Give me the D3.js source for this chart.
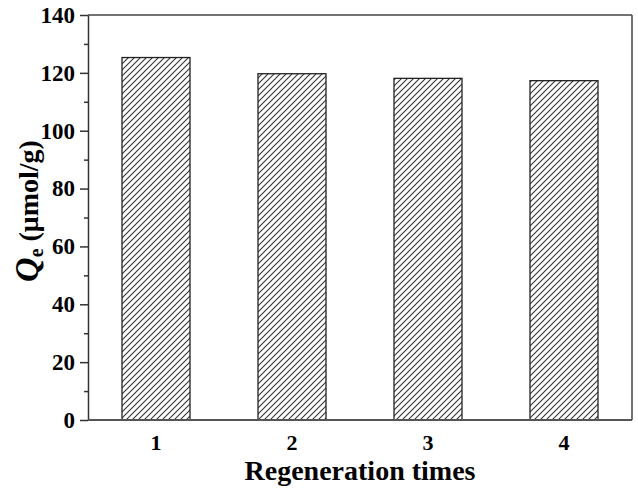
<!DOCTYPE html>
<html><head><meta charset="utf-8">
<script src="https://cdn.jsdelivr.net/npm/d3@7"></script>
<style>body{margin:0;background:#fff}</style>
</head><body>
<svg id="c" width="638" height="491"></svg>
<script>
const categories = ["1","2","3","4"];
const values = [125.3, 119.7, 118.1, 117.3];
const yTicks = [0,20,40,60,80,100,120,140];
const yMinor = [10,30,50,70,90,110,130];

const svg = d3.select("#c");
const m = {l:88, r:632, t:15, b:420};
const x = d3.scaleBand().domain(categories).range([m.l, m.r]).paddingInner(0.5).paddingOuter(0.25);
const y = d3.scaleLinear().domain([0,140]).range([m.b, m.t]);
const font = "'Liberation Serif','Times New Roman',serif";

const defs = svg.append("defs");
const pat = defs.append("pattern").attr("id","hatch").attr("patternUnits","userSpaceOnUse")
  .attr("width",6).attr("height",6);
pat.append("path").attr("d","M-1,1 l2,-2 M0,6 l6,-6 M5,7 l2,-2")
  .attr("stroke","#333").attr("stroke-width",1.1);

svg.selectAll("rect.bar").data(values).join("rect").attr("class","bar")
  .attr("x",(d,i)=>x(categories[i])).attr("width",x.bandwidth())
  .attr("y",d=>y(d)).attr("height",d=>y(0)-y(d))
  .attr("fill","url(#hatch)").attr("stroke","#222").attr("stroke-width",1.3);

// frame
svg.append("line").attr("x1",m.l).attr("x2",m.r).attr("y1",m.t).attr("y2",m.t).attr("stroke","#444").attr("stroke-width",1.5);
svg.append("line").attr("x1",m.r).attr("x2",m.r).attr("y1",m.t).attr("y2",m.b).attr("stroke","#444").attr("stroke-width",1.5);

const ya = svg.append("g").attr("transform",`translate(${m.l},0)`)
  .call(d3.axisLeft(y).tickValues(yTicks).tickSize(8).tickSizeOuter(0).tickPadding(5));
ya.select(".domain").attr("stroke","#333").attr("stroke-width",1.5);
ya.selectAll(".tick line").attr("stroke","#333").attr("stroke-width",1.5);
ya.selectAll("text").attr("font-family",font).attr("font-weight","bold").attr("font-size",23).attr("fill","#000");
const ym = svg.append("g").attr("transform",`translate(${m.l},0)`)
  .call(d3.axisLeft(y).tickValues(yMinor).tickSize(4).tickFormat(""));
ym.select(".domain").remove();
ym.selectAll(".tick line").attr("stroke","#333").attr("stroke-width",1.5);

const xa = svg.append("g").attr("transform",`translate(0,${m.b})`)
  .call(d3.axisBottom(x).tickSize(0).tickPadding(14));
xa.select(".domain").attr("stroke","#555").attr("stroke-width",2).attr("d",`M${m.l},0H${m.r}`);
xa.selectAll("text").attr("font-family",font).attr("font-weight","bold").attr("font-size",22).attr("fill","#000");

svg.append("text").attr("x",(m.l+m.r)/2).attr("y",480).attr("text-anchor","middle")
  .attr("font-family",font).attr("font-weight","bold").attr("font-size",28).text("Regeneration times");

const yt = svg.append("text").attr("transform","translate(38,211) rotate(-90)").attr("text-anchor","middle")
  .attr("font-family",font).attr("font-weight","bold").attr("font-size",28);
yt.append("tspan").attr("font-style","italic").attr("font-size",34).text("Q");
yt.append("tspan").attr("font-size",20).attr("dy",5).text("e");
yt.append("tspan").attr("dy",-5).text(" (μmol/g)");
</script>
</body></html>
